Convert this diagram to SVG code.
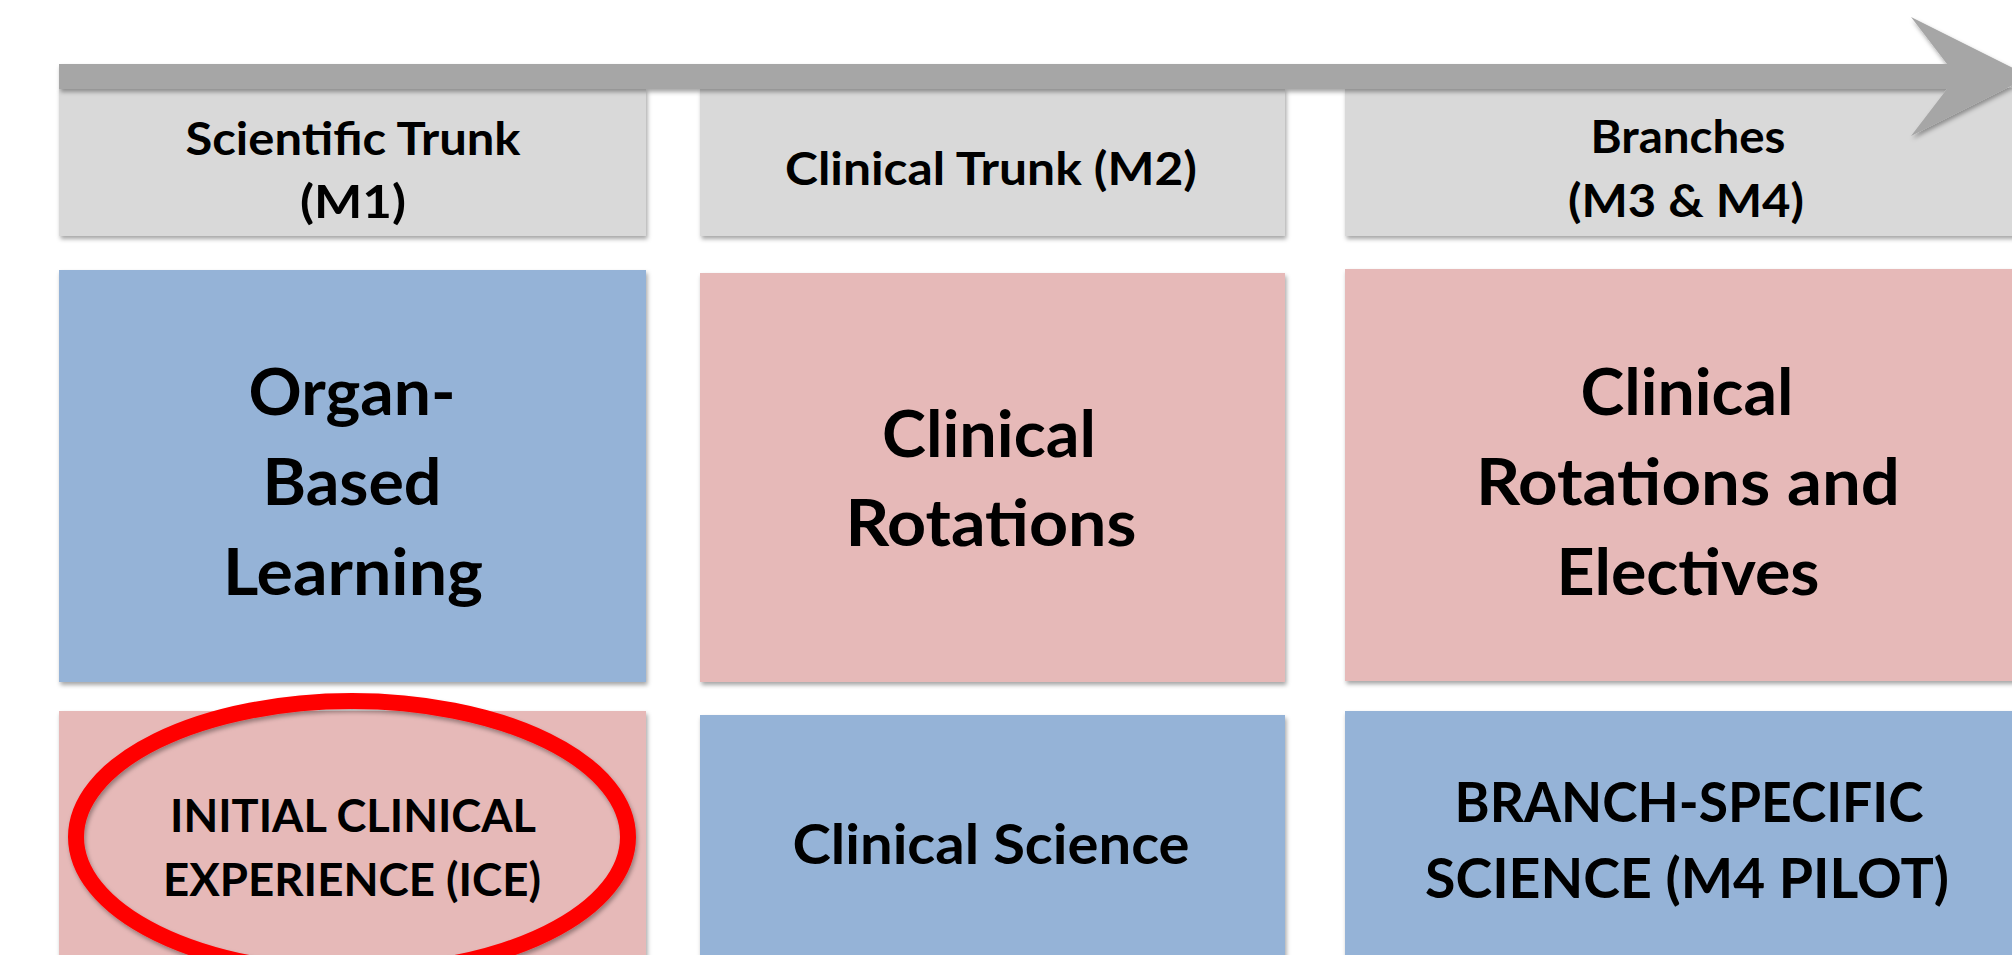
<svg xmlns="http://www.w3.org/2000/svg" width="2012" height="955" viewBox="0 0 2012 955">
  <defs>
    <filter id="sh" x="-5%" y="-5%" width="112%" height="115%">
      <feDropShadow dx="1.5" dy="3" stdDeviation="2.2" flood-color="#000" flood-opacity="0.35"/>
    </filter>
    <style>
      .hdr { fill: #d9d9d9; filter: url(#sh); }
      .blue { fill: #95b3d7; filter: url(#sh); }
      .pink { fill: #e6b9b8; filter: url(#sh); }
      text { font-family: Lato, "Liberation Sans", sans-serif; font-weight: 700; fill: #000; text-anchor: middle; }
      .h { font-size: 46px; }
      .big { font-size: 65px; }
      .mid { font-size: 55px; }
      .sm { font-size: 46px; }
    </style>
  </defs>
  <rect width="2012" height="955" fill="#ffffff"/>

  <g id="header-m1">
    <rect class="hdr" x="59" y="88" width="587" height="148"/>
    <text class="h" x="353" y="155" textLength="335" lengthAdjust="spacingAndGlyphs">Scientific Trunk</text>
    <text class="h" x="353" y="218" textLength="106" lengthAdjust="spacingAndGlyphs">(M1)</text>
  </g>
  <g id="header-m2">
    <rect class="hdr" x="700" y="88" width="585" height="148"/>
    <text class="h" x="991" y="185" textLength="412" lengthAdjust="spacingAndGlyphs">Clinical Trunk (M2)</text>
  </g>
  <g id="header-branches">
    <rect class="hdr" x="1345" y="88" width="700" height="148"/>
    <text class="h" x="1688" y="153" textLength="195" lengthAdjust="spacingAndGlyphs">Branches</text>
    <text class="h" x="1686" y="217" textLength="236" lengthAdjust="spacingAndGlyphs">(M3 &amp; M4)</text>
  </g>

  <g id="connectors">
    <path d="M59,64 L1947,64 L1911,17 L2030,76.5 L1911,136 L1947,89 L59,89 Z" fill="#a6a6a6" filter="url(#sh)"/>
  </g>

  <g id="organ-based-learning">
    <rect class="blue" x="59" y="270" width="587" height="412"/>
    <text class="big" x="352" y="415" textLength="207" lengthAdjust="spacingAndGlyphs">Organ-</text>
    <text class="big" x="352" y="505" textLength="179" lengthAdjust="spacingAndGlyphs">Based</text>
    <text class="big" x="353" y="595" textLength="260" lengthAdjust="spacingAndGlyphs">Learning</text>
  </g>
  <g id="clinical-rotations">
    <rect class="pink" x="700" y="273" width="585" height="409"/>
    <text class="big" x="989" y="457" textLength="214" lengthAdjust="spacingAndGlyphs">Clinical</text>
    <text class="big" x="991" y="546" textLength="291" lengthAdjust="spacingAndGlyphs">Rotations</text>
  </g>
  <g id="clinical-rotations-electives">
    <rect class="pink" x="1345" y="269" width="700" height="412"/>
    <text class="big" x="1687" y="415" textLength="213" lengthAdjust="spacingAndGlyphs">Clinical</text>
    <text class="big" x="1688" y="505" textLength="424" lengthAdjust="spacingAndGlyphs">Rotations and</text>
    <text class="big" x="1688" y="595" textLength="263" lengthAdjust="spacingAndGlyphs">Electives</text>
  </g>

  <g id="ice">
    <rect class="pink" x="59" y="711" width="587" height="260"/>
    <ellipse cx="352" cy="837" rx="276" ry="136" fill="none" stroke="#ff0000" stroke-width="16" filter="url(#sh)"/>
    <text class="sm" x="353" y="832" textLength="366" lengthAdjust="spacingAndGlyphs">INITIAL CLINICAL</text>
    <text class="sm" x="352" y="896" textLength="378" lengthAdjust="spacingAndGlyphs">EXPERIENCE (ICE)</text>
  </g>
  <g id="clinical-science">
    <rect class="blue" x="700" y="715" width="585" height="260"/>
    <text class="mid" x="991" y="864" textLength="397" lengthAdjust="spacingAndGlyphs">Clinical Science</text>
  </g>
  <g id="branch-specific-science">
    <rect class="blue" x="1345" y="711" width="700" height="260"/>
    <text class="mid" x="1689" y="822" textLength="469" lengthAdjust="spacingAndGlyphs">BRANCH-SPECIFIC</text>
    <text class="mid" x="1687" y="898" textLength="524" lengthAdjust="spacingAndGlyphs">SCIENCE (M4 PILOT)</text>
  </g>
</svg>
